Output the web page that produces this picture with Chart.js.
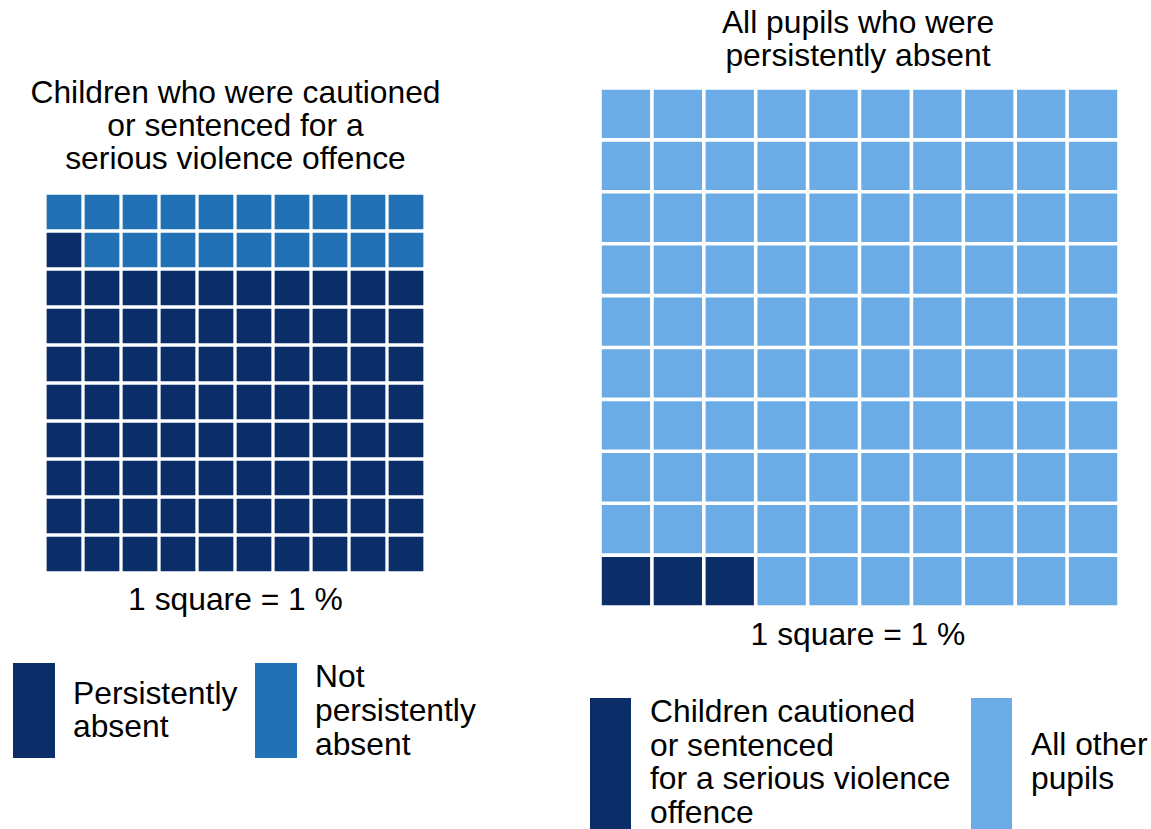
<!DOCTYPE html>
<html>
<head>
<meta charset="utf-8">
<script src="https://cdn.jsdelivr.net/npm/chart.js@4.4.1/dist/chart.umd.min.js"></script>
<style>
  html, body { margin: 0; padding: 0; background: #ffffff; }
  body { width: 1151px; height: 829px; position: relative; overflow: hidden;
         font-family: "Liberation Sans", Arial, sans-serif; color: #000; }
  .t { position: absolute; font-size: 31.8px; line-height: 33px; white-space: nowrap; }
  .c { text-align: center; }
  .sw { position: absolute; }
  canvas { position: absolute; }
</style>
</head>
<body>
<div class="t c" id="titleL" style="left:0; width:471px; top:76.4px;"></div>
<div class="t c" id="titleR" style="left:658px; width:400px; top:5.9px;"></div>
<canvas id="chartL" width="380" height="380" style="left:45px; top:193px; width:380px; height:380px;"></canvas>
<canvas id="chartR" width="519" height="519" style="left:600px; top:88px; width:519px; height:519px;"></canvas>
<div class="t c" id="noteL" style="left:0; width:471px; top:583.4px;"></div>
<div class="t c" id="noteR" style="left:658px; width:400px; top:618.4px;"></div>

<div class="sw" id="swL0" style="left:13px; top:663px; width:42px; height:95px;"></div>
<div class="t" id="legL0" style="left:73px; top:677.4px;"></div>
<div class="sw" id="swL1" style="left:255px; top:663px; width:42px; height:95px;"></div>
<div class="t" id="legL1" style="left:315px; top:659.1px; line-height:34px;"></div>

<div class="sw" id="swR0" style="left:590px; top:698px; width:41px; height:131px;"></div>
<div class="t" id="legR0" style="left:650px; top:695.4px; line-height:33.4px;"></div>
<div class="sw" id="swR1" style="left:971px; top:698px; width:41px; height:131px;"></div>
<div class="t" id="legR1" style="left:1031px; top:727.4px; line-height:34px;"></div>

<script>
// ---- Data ----
const leftTitle = ["Children who were cautioned", "or sentenced for a", "serious violence offence"];
const rightTitle = ["All pupils who were", "persistently absent"];
const scaleNote = "1 square = 1 %";

const leftCategories = ["Persistently absent", "Not persistently absent"];
const leftLegendLines = [["Persistently", "absent"], ["Not", "persistently", "absent"]];
const leftValues = [81, 19];
const leftColors = ["#0b2e68", "#2271b4"];

const rightCategories = ["Children cautioned or sentenced for a serious violence offence", "All other pupils"];
const rightLegendLines = [["Children cautioned", "or sentenced", "for a serious violence", "offence"], ["All other", "pupils"]];
const rightValues = [3, 97];
const rightColors = ["#0b2e68", "#6babe6"];

const gridCols = 10;
const gridRows = 10;

// ---- Text ----
function setLines(id, lines) {
  const el = document.getElementById(id);
  el.innerHTML = "";
  lines.forEach((l, i) => {
    if (i) el.appendChild(document.createElement("br"));
    el.appendChild(document.createTextNode(l));
  });
}
setLines("titleL", leftTitle);
setLines("titleR", rightTitle);
setLines("noteL", [scaleNote]);
setLines("noteR", [scaleNote]);
setLines("legL0", leftLegendLines[0]);
setLines("legL1", leftLegendLines[1]);
setLines("legR0", rightLegendLines[0]);
setLines("legR1", rightLegendLines[1]);
document.getElementById("swL0").style.background = leftColors[0];
document.getElementById("swL1").style.background = leftColors[1];
document.getElementById("swR0").style.background = rightColors[0];
document.getElementById("swR1").style.background = rightColors[1];

// ---- Waffle cells: filled from bottom-left, row by row upward ----
function buildDatasets(categories, values, colors, radius) {
  let k = 0;
  return categories.map((cat, ci) => {
    const pts = [];
    for (let n = 0; n < values[ci]; n++, k++) {
      pts.push({ x: (k % gridCols) + 1, y: Math.floor(k / gridCols) + 1 });
    }
    return {
      label: cat,
      data: pts,
      pointStyle: "rect",
      pointRadius: radius,
      pointHoverRadius: radius,
      pointBorderWidth: 0,
      backgroundColor: colors[ci],
      borderColor: colors[ci],
      borderWidth: 0
    };
  });
}

function waffle(id, categories, values, colors, radius) {
  return new Chart(document.getElementById(id), {
    type: "scatter",
    data: { datasets: buildDatasets(categories, values, colors, radius) },
    options: {
      responsive: false,
      animation: false,
      events: [],
      layout: { padding: 0, autoPadding: false },
      plugins: { legend: { display: false }, title: { display: false }, tooltip: { enabled: false } },
      scales: {
        x: { type: "linear", min: 0.5, max: gridCols + 0.5, display: false },
        y: { type: "linear", min: 0.5, max: gridRows + 0.5, display: false }
      }
    }
  });
}

waffle("chartL", leftCategories, leftValues, leftColors, 34.7 / Math.SQRT2);
waffle("chartR", rightCategories, rightValues, rightColors, 48.3 / Math.SQRT2);
</script>
</body>
</html>
